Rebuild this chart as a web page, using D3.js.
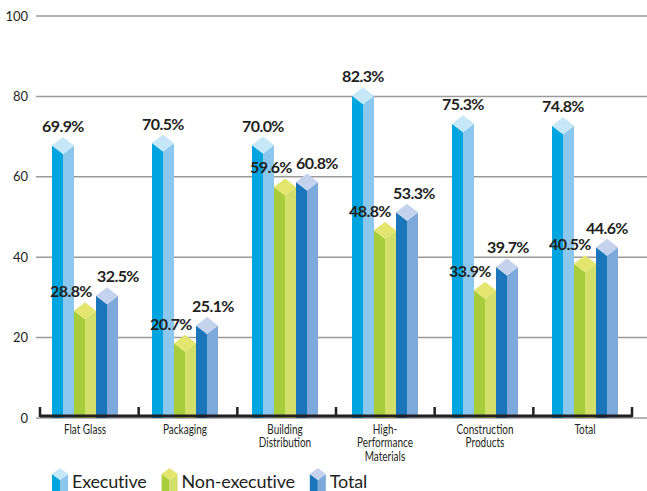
<!DOCTYPE html>
<html>
<head>
<meta charset="utf-8">
<script src="https://cdn.jsdelivr.net/npm/d3@7"></script>
<style>
  body { margin: 0; background: #fff; }
  text { font-family: Lato, "Open Sans", sans-serif; fill: #231f20; }
</style>
</head>
<body>
<div id="chart"></div>
<script>
// data
var categories = ["Flat Glass", "Packaging", "Building\nDistribution", "High-\nPerformance\nMaterials", "Construction\nProducts", "Total"];
var seriesNames = ["Executive", "Non-executive", "Total"];
var executive = [69.9, 70.5, 70.0, 82.3, 75.3, 74.8];
var nonExecutive = [28.8, 20.7, 59.6, 48.8, 33.9, 40.5];
var total = [32.5, 25.1, 60.8, 53.3, 39.7, 44.6];
var yTicks = [0, 20, 40, 60, 80, 100];

var seriesValues = [executive, nonExecutive, total];

// face colours: dark side, light side, top
var colors = [
  ["#00a5df", "#8cc8ee", "#c6e7f8"],
  ["#a8cd3a", "#d3df6b", "#e4e56f"],
  ["#1b75ba", "#7eaadb", "#c4d2ed"]
];
// hand placed label nudges, as in the original
var labelNudge = [
  [0, 0, 0, 0, 0, 0],
  [-14, -14, -14, -15, -15, -15],
  [11, 6, 10, 7, 1, 0]
];

var svgWidth = 647;
var svgHeight = 491;

var svg = d3.select("#chart")
  .append("svg")
  .attr("width", svgWidth)
  .attr("height", svgHeight);

var yScale = d3.scaleLinear()
  .domain([0, 100])
  .range([418, 16]);

// bands for the axis ticks
var xBand = d3.scaleBand()
  .domain(categories)
  .range([40, 632]);

// group centres
var xGroup = d3.scalePoint()
  .domain(categories)
  .range([85, 585]);

var barW = 22;
var half = 8.5;

// gridlines
svg.append("g")
  .selectAll("line")
  .data(yTicks)
  .enter()
  .append("line")
  .attr("x1", 36)
  .attr("x2", svgWidth)
  .attr("y1", d => yScale(d))
  .attr("y2", d => yScale(d))
  .attr("stroke", "#9a9a9a")
  .attr("stroke-width", 1.5);

svg.append("g")
  .selectAll("text")
  .data(yTicks)
  .enter()
  .append("text")
  .attr("x", 28)
  .attr("y", d => yScale(d))
  .attr("dy", "0.36em")
  .attr("text-anchor", "end")
  .attr("font-size", 13)
  .attr("fill", "#333")
  .text(d => d);

// bars
var bars = [];
seriesValues.forEach(function(vals, s) {
  vals.forEach(function(v, i) {
    bars.push({s: s, i: i, v: v, cat: categories[i]});
  });
});

var barG = svg.append("g");

bars.forEach(function(d) {
  var x0 = xGroup(d.cat) - barW * 1.5 + d.s * barW;
  var xm = x0 + barW / 2;
  var x1 = x0 + barW;
  var yt = yScale(d.v);
  var yb = yScale(0);
  var g = barG.append("g");
  g.append("polygon")
    .attr("points", [[x0, yt + half], [xm, yt + 2 * half], [xm, yb], [x0, yb]].join(" "))
    .attr("fill", colors[d.s][0]);
  g.append("polygon")
    .attr("points", [[xm, yt + 2 * half], [x1, yt + half], [x1, yb], [xm, yb]].join(" "))
    .attr("fill", colors[d.s][1]);
  g.append("polygon")
    .attr("points", [[xm, yt], [x1, yt + half], [xm, yt + 2 * half], [x0, yt + half]].join(" "))
    .attr("fill", colors[d.s][2]);
});

// value labels
svg.append("g")
  .selectAll("text")
  .data(bars)
  .enter()
  .append("text")
  .attr("x", d => xGroup(d.cat) - barW + d.s * barW + labelNudge[d.s][d.i])
  .attr("y", d => yScale(d.v) - 5)
  .attr("text-anchor", "middle")
  .attr("font-size", 16)
  .attr("font-weight", "bold")
  .attr("letter-spacing", -0.6)
  .text(d => d.v.toFixed(1) + "%");

// baseline + ticks
svg.append("line")
  .attr("x1", xBand.range()[0])
  .attr("x2", xBand.range()[1])
  .attr("y1", yScale(0) - 2)
  .attr("y2", yScale(0) - 2)
  .attr("stroke", "#231f20")
  .attr("stroke-width", 3);

var tickXs = categories.map(c => xBand(c)).concat([xBand.range()[1]]);
svg.append("g")
  .selectAll("line")
  .data(tickXs)
  .enter()
  .append("line")
  .attr("x1", d => d)
  .attr("x2", d => d)
  .attr("y1", yScale(0) - 11)
  .attr("y2", yScale(0) - 1)
  .attr("stroke", "#231f20")
  .attr("stroke-width", 2.5);

// category labels
var catG = svg.append("g")
  .selectAll("g")
  .data(categories)
  .enter()
  .append("g")
  .attr("transform", d => `translate(${xGroup(d)}, 434) scale(0.8, 1)`);

catG.selectAll("text")
  .data(d => d.split("\n"))
  .enter()
  .append("text")
  .attr("x", 0)
  .attr("y", (d, i) => i * 13.5)
  .attr("text-anchor", "middle")
  .attr("font-size", 12.5)
  .attr("fill", "#333")
  .text(d => d);

// legend
var legend = svg.append("g");
var lx = 52;
seriesNames.forEach(function(name, s) {
  var w = 16, h = 6, top = 468, bottom = 491;
  var g = legend.append("g");
  g.append("polygon")
    .attr("points", [[lx, top + h], [lx + w / 2, top + 2 * h], [lx + w / 2, bottom], [lx, bottom]].join(" "))
    .attr("fill", colors[s][0]);
  g.append("polygon")
    .attr("points", [[lx + w / 2, top + 2 * h], [lx + w, top + h], [lx + w, bottom], [lx + w / 2, bottom]].join(" "))
    .attr("fill", colors[s][1]);
  g.append("polygon")
    .attr("points", [[lx + w / 2, top], [lx + w, top + h], [lx + w / 2, top + 2 * h], [lx, top + h]].join(" "))
    .attr("fill", colors[s][2]);
  var t = g.append("text")
    .attr("x", lx + 20)
    .attr("y", 488)
    .attr("font-size", 18)
    .attr("letter-spacing", -0.2)
    .text(name);
  lx = lx + 20 + t.node().getComputedTextLength() + 15;
});
</script>
</body>
</html>
